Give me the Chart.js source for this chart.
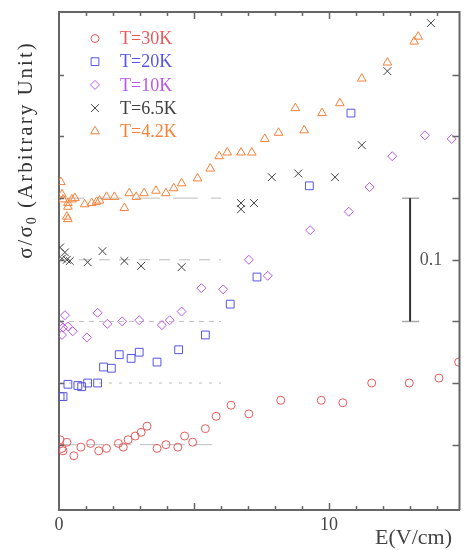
<!DOCTYPE html>
<html>
<head>
<meta charset="utf-8">
<script src="https://cdn.jsdelivr.net/npm/chart.js@4.4.0/dist/chart.umd.min.js"></script>
<style>
  html, body { margin: 0; padding: 0; background: #fff; }
  #wrap { width: 466px; height: 550px; }
</style>
</head>
<body>
<div id="wrap"><canvas id="sigma-chart" width="466" height="550"></canvas></div>
<script>
// sigma/sigma0 against field E, one series per temperature, each shifted by 0.05
const seriesLabels = ['T=30K', 'T=20K', 'T=10K', 'T=6.5K', 'T=4.2K'];

const e30K = [0.04, 0.29, 0.11, 0.15, 0.55, 0.81, 1.17, 1.47, 1.76, 2.20, 2.38, 2.56, 2.82, 3.04, 3.26, 3.63, 3.96, 4.40, 4.65, 4.95, 5.42, 5.82, 6.37, 7.03, 8.21, 9.71, 10.51, 11.58, 12.97, 14.07, 14.80];
const s30K = [0.054, 0.052, 0.047, 0.045, 0.041, 0.048, 0.051, 0.045, 0.047, 0.051, 0.048, 0.054, 0.057, 0.060, 0.065, 0.047, 0.050, 0.048, 0.057, 0.052, 0.063, 0.073, 0.082, 0.075, 0.086, 0.086, 0.084, 0.100, 0.100, 0.104, 0.117];

const e20K = [0.04, 0.15, 0.33, 0.70, 0.84, 1.06, 1.43, 1.65, 1.94, 2.23, 2.67, 2.97, 3.63, 4.43, 5.42, 6.34, 7.33, 9.27, 10.81];
const s20K = [0.089, 0.089, 0.099, 0.098, 0.097, 0.100, 0.100, 0.113, 0.112, 0.123, 0.120, 0.125, 0.117, 0.127, 0.139, 0.164, 0.186, 0.260, 0.319];

const e10K = [0.04, 0.22, 0.15, 0.33, 0.11, 0.51, 1.03, 1.43, 1.79, 2.34, 2.97, 3.81, 4.10, 4.54, 5.27, 6.08, 7.03, 7.73, 9.30, 10.73, 11.50, 12.34, 13.55, 14.54];
const s10K = [0.147, 0.155, 0.145, 0.146, 0.139, 0.142, 0.137, 0.157, 0.148, 0.150, 0.151, 0.147, 0.151, 0.158, 0.177, 0.176, 0.200, 0.187, 0.224, 0.239, 0.259, 0.284, 0.301, 0.298];

const e6K = [0.04, 0.22, 0.11, 0.29, 0.40, 1.06, 1.61, 2.42, 3.04, 4.54, 6.74, 6.74, 7.22, 7.88, 8.86, 10.22, 11.21, 12.16, 13.77];
const s6K = [0.210, 0.206, 0.201, 0.200, 0.199, 0.198, 0.207, 0.199, 0.195, 0.194, 0.246, 0.241, 0.246, 0.267, 0.270, 0.267, 0.293, 0.353, 0.392];

const e4K = [0.07, 0.11, 0.15, 0.33, 0.48, 0.59, 0.33, 0.29, 0.33, 0.95, 1.21, 1.39, 1.50, 1.76, 2.05, 2.42, 2.60, 2.86, 3.15, 3.59, 3.96, 4.25, 4.54, 5.13, 5.60, 5.93, 6.23, 6.74, 7.14, 7.62, 8.13, 8.75, 9.08, 9.74, 10.40, 11.21, 12.16, 13.15, 13.30];
const s4K = [0.263, 0.253, 0.249, 0.246, 0.249, 0.250, 0.243, 0.235, 0.233, 0.245, 0.246, 0.247, 0.248, 0.251, 0.251, 0.242, 0.254, 0.251, 0.254, 0.256, 0.254, 0.258, 0.262, 0.266, 0.274, 0.284, 0.287, 0.287, 0.287, 0.298, 0.303, 0.323, 0.305, 0.319, 0.327, 0.347, 0.360, 0.377, 0.381];

// zero-field level of each series (sigma/sigma0 = 1) and how far the guide runs
const baseLevels = [0.05, 0.10, 0.15, 0.20, 0.25];
const baseEnd = 6;

// vertical scale bar
const barE = 13.0;
const barLow = 0.15;
const barHigh = 0.25;
const barText = '0.1';

const xTickLabels = [0, 10];

const colors = ['#e85a5a', '#5656e6', '#bb58ea', '#404040', '#f5823a'];
const styles = ['circle', 'rect', 'rectRot', 'crossRot', 'triangle'];
const radii = [4, 5.5, 4.5, 5.5, 5];
const dashes = [[18, 9], [3, 7], [5, 5], [11, 9], [25, 13]];

const pts = (xs, ys) => xs.map((x, i) => ({ x, y: ys[i] }));
const series = [pts(e30K, s30K), pts(e20K, s20K), pts(e10K, s10K), pts(e6K, s6K), pts(e4K, s4K)];

const datasets = [];
baseLevels.forEach((lv, i) => {
    datasets.push({
        data: [{ x: 0, y: lv }, { x: baseEnd, y: lv }],
        showLine: true,
        borderColor: '#bdbdbd',
        borderWidth: 1,
        borderDash: dashes[i],
        pointRadius: 0,
        order: 2
    });
});
series.forEach((d, i) => {
    datasets.push({
        label: seriesLabels[i],
        data: d,
        showLine: false,
        pointStyle: styles[i],
        pointRadius: radii[i],
        pointBorderWidth: 1,
        borderColor: colors[i],
        backgroundColor: 'rgba(0,0,0,0)',
        order: 1
    });
});

const serif = '"Liberation Serif", "Times New Roman", serif';

function drawMarker(ctx, style, r, x, y) {
    if (Chart.helpers && Chart.helpers.drawPoint) {
        Chart.helpers.drawPoint(ctx, { pointStyle: style, radius: r, borderWidth: 1, rotation: 0 }, x, y);
    } else {
        ctx.beginPath();
        ctx.arc(x, y, r, 0, Math.PI * 2);
        ctx.stroke();
    }
}

const decorations = {
    id: 'decorations',
    afterDraw(chart) {
        const ctx = chart.ctx;
        const area = chart.chartArea;
        const xs = chart.scales.x;
        const ys = chart.scales.y;
        ctx.save();

        // top and right frame
        ctx.strokeStyle = '#666';
        ctx.lineWidth = 2;
        ctx.beginPath();
        ctx.moveTo(area.left, area.top);
        ctx.lineTo(area.right, area.top);
        ctx.lineTo(area.right, area.bottom);
        ctx.stroke();

        // inward ticks
        ctx.lineWidth = 1.5;
        ctx.beginPath();
        for (let v = 1; v <= 14; v++) {
            const px = Math.round(xs.getPixelForValue(v)) + 0.5;
            const len = v % 5 === 0 ? 7 : 4;
            ctx.moveTo(px, area.bottom);
            ctx.lineTo(px, area.bottom - len);
            ctx.moveTo(px, area.top);
            ctx.lineTo(px, area.top + len);
        }
        for (let k = 1; k <= 7; k++) {
            const py = Math.round(ys.getPixelForValue(k * 0.05)) + 0.5;
            ctx.moveTo(area.left, py);
            ctx.lineTo(area.left + 5, py);
            ctx.moveTo(area.right, py);
            ctx.lineTo(area.right - 7, py);
        }
        ctx.stroke();

        // scale bar
        const bx = xs.getPixelForValue(barE);
        const bTop = ys.getPixelForValue(barHigh);
        const bBot = ys.getPixelForValue(barLow);
        ctx.strokeStyle = '#aaa';
        ctx.lineWidth = 1.5;
        ctx.beginPath();
        ctx.moveTo(bx - 8, bTop); ctx.lineTo(bx + 9, bTop);
        ctx.moveTo(bx - 8, bBot); ctx.lineTo(bx + 9, bBot);
        ctx.stroke();
        ctx.strokeStyle = '#333';
        ctx.lineWidth = 2;
        ctx.beginPath();
        ctx.moveTo(bx, bTop); ctx.lineTo(bx, bBot);
        ctx.stroke();
        ctx.fillStyle = '#555';
        ctx.font = '18px ' + serif;
        ctx.textAlign = 'center';
        ctx.textBaseline = 'middle';
        ctx.fillText(barText, bx + 21, (bTop + bBot) / 2);

        // legend
        ctx.textAlign = 'left';
        seriesLabels.forEach((lab, i) => {
            const y = 38.5 + i * 23.2;
            ctx.strokeStyle = colors[i];
            ctx.fillStyle = 'rgba(0,0,0,0)';
            ctx.lineWidth = 1;
            drawMarker(ctx, styles[i], radii[i], 95, y);
            ctx.fillStyle = colors[i];
            ctx.font = '18px ' + serif;
            ctx.fillText(lab, 120, y + 1);
        });

        // x title
        ctx.fillStyle = '#444';
        ctx.font = '22px ' + serif;
        ctx.textAlign = 'right';
        ctx.textBaseline = 'middle';
        ctx.fillText('E(V/cm)', 452, 538);

        // y title with subscript
        ctx.translate(25, 150);
        ctx.rotate(-Math.PI / 2);
        ctx.fillStyle = '#333';
        ctx.textAlign = 'left';
        ctx.textBaseline = 'alphabetic';
        ctx.letterSpacing = '2px';
        const parts = [['σ/σ', '21px ' + serif, 0], ['0', '14px ' + serif, 4], [' (Arbitrary Unit)', '21px ' + serif, 0]];
        let total = 0;
        parts.forEach(p => { ctx.font = p[1]; total += ctx.measureText(p[0]).width; });
        let tx = -total / 2;
        parts.forEach(p => {
            ctx.font = p[1];
            ctx.fillText(p[0], tx, 7 + p[2]);
            tx += ctx.measureText(p[0]).width;
        });
        ctx.restore();
    }
};

new Chart(document.getElementById('sigma-chart').getContext('2d'), {
    type: 'scatter',
    data: { datasets },
    plugins: [decorations],
    options: {
        responsive: false,
        animation: false,
        layout: { padding: { top: 12, right: 2, left: 0, bottom: 0 } },
        plugins: {
            legend: { display: false },
            tooltip: { enabled: false }
        },
        scales: {
            x: {
                type: 'linear',
                min: 0,
                max: 14.83,
                afterFit: s => { s.height = 40; },
                grid: { display: false, drawTicks: false },
                border: { display: true, color: '#666', width: 2 },
                ticks: {
                    stepSize: 1,
                    autoSkip: false,
                    maxRotation: 0,
                    padding: 4,
                    color: '#444',
                    font: { family: serif, size: 18 },
                    callback: v => xTickLabels.includes(v) ? String(v) : ''
                }
            },
            y: {
                type: 'linear',
                min: -0.003,
                max: 0.401,
                afterFit: s => { s.width = 59; },
                grid: { display: false, drawTicks: false },
                border: { display: true, color: '#666', width: 2 },
                ticks: { display: false }
            }
        }
    }
});
</script>
</body>
</html>
